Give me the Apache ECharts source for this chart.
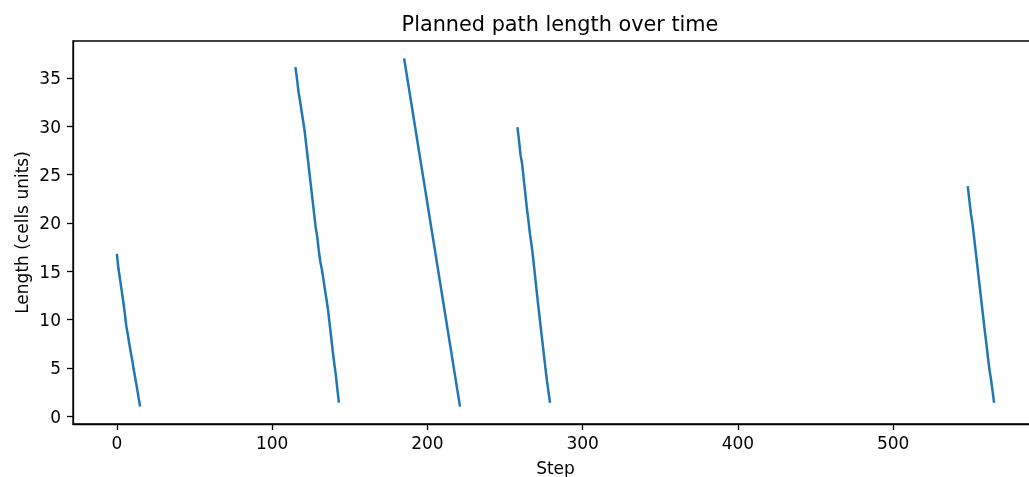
<!DOCTYPE html>
<html>
<head>
<meta charset="utf-8">
<script src="https://cdn.jsdelivr.net/npm/echarts@6/dist/echarts.min.js"></script>
<style>
  html, body { margin: 0; padding: 0; background: #fff; }
  #chart { width: 1029px; height: 477px; }
</style>
</head>
<body>
<div id="chart"></div>
<script>
// ---- data ----
const seg1Steps = [0,1,2,3,4,5,6,7,8,9,10,11,12,13,14,15];
const seg1Len   = [16.8,15.3,14.2,13.1,12.0,10.8,9.4,8.5,7.5,6.6,5.7,4.7,3.8,2.9,1.9,1.0];

const seg2Steps = [115,116,117,118,119,120,121,122,123,124,125,126,127,128,129,130,131,132,133,134,135,136,137,138,139,140,141,142,143];
const seg2Len   = [36.1,34.9,33.5,32.6,31.5,30.5,29.4,28.0,26.6,25.2,23.8,22.4,21.0,19.6,18.6,17.2,16.0,15.2,14.2,13.1,12.1,11.0,9.6,8.2,6.8,5.5,4.3,2.8,1.4];

const seg3Steps = [185,186,187,188,189,190,191,192,193,194,195,196,197,198,199,200,201,202,203,204,205,206,207,208,209,210,211,212,213,214,215,216,217,218,219,220,221];
const seg3Len   = [37.0,36.0,35.0,34.0,33.0,32.0,31.0,30.0,29.0,28.0,27.0,26.0,25.0,24.0,23.0,22.0,21.0,20.0,19.0,18.0,17.0,16.0,15.0,14.0,13.0,12.0,11.0,10.0,9.0,8.0,7.0,6.0,5.0,4.0,3.0,2.0,1.0];

const seg4Steps = [258,259,260,261,262,263,264,265,266,267,268,269,270,271,272,273,274,275,276,277,278,279];
const seg4Len   = [29.9,28.5,27.0,26.1,24.6,23.1,21.6,20.3,18.9,17.8,16.5,15.0,13.5,12.0,10.6,9.2,7.8,6.4,5.0,3.7,2.5,1.4];

const seg5Steps = [548,549,550,551,552,553,554,555,556,557,558,559,560,561,562,563,564,565];
const seg5Len   = [23.8,22.4,21.0,20.0,18.6,17.2,15.8,14.4,13.0,11.6,10.2,8.8,7.5,6.1,4.8,3.8,2.6,1.4];

const xTicks = [0,100,200,300,400,500];
const yTicks = [0,5,10,15,20,25,30,35];

// ---- build one broken line (null separates the episodes) ----
const segments = [[seg1Steps,seg1Len],[seg2Steps,seg2Len],[seg3Steps,seg3Len],[seg4Steps,seg4Len],[seg5Steps,seg5Len]];
const lineData = [];
segments.forEach(([s, v], k) => {
  if (k > 0) lineData.push([s[0] - 0.5, null]);
  s.forEach((x, i) => lineData.push([x, v[i]]));
});

const FONT = 'DejaVu Sans';
const TICK_FS = 17;
const chart = echarts.init(document.getElementById('chart'), null, { renderer: 'canvas' });
chart.setOption({
  animation: false,
  backgroundColor: '#ffffff',
  textStyle: { fontFamily: FONT, color: '#000' },
  title: {
    text: 'Planned path length over time',
    left: 555, top: 10,
    textAlign: 'center',
    textStyle: { fontFamily: FONT, fontSize: 20.8, fontWeight: 'normal', color: '#000' }
  },
  grid: {
    left: 73, top: 41, width: 965, height: 383,
    containLabel: false, outerBoundsMode: 'none',
    show: true, borderColor: '#000', borderWidth: 1.3, backgroundColor: 'transparent'
  },
  xAxis: {
    type: 'value', min: -28.25, max: 593.25,
    name: 'Step', nameLocation: 'middle', nameGap: 37, nameMoveOverlap: false,
    nameTextStyle: { fontFamily: FONT, fontSize: TICK_FS, color: '#000' },
    axisLine: { show: true, onZero: false, lineStyle: { color: '#000', width: 1.3 } },
    axisTick: { show: true, customValues: xTicks, length: 6, lineStyle: { color: '#000', width: 1.3 } },
    axisLabel: { customValues: xTicks, margin: 12, fontFamily: FONT, fontSize: TICK_FS, color: '#000' },
    splitLine: { show: false }
  },
  yAxis: {
    type: 'value', min: -0.8, max: 38.8,
    name: 'Length (cells units)', nameLocation: 'middle', nameGap: 41, nameRotate: 90, nameMoveOverlap: false,
    nameTextStyle: { fontFamily: FONT, fontSize: TICK_FS, color: '#000' },
    axisLine: { show: true, onZero: false, lineStyle: { color: '#000', width: 1.3 } },
    axisTick: { show: true, customValues: yTicks, length: 6, lineStyle: { color: '#000', width: 1.3 } },
    axisLabel: {
      customValues: yTicks, margin: 12, color: '#000',
      formatter: v => '{t|' + v + '}',
      rich: { t: { fontFamily: FONT, fontSize: TICK_FS, color: '#000', padding: [4, 0, 0, 0] } }
    },
    splitLine: { show: false }
  },
  series: [{
    type: 'line',
    data: lineData,
    connectNulls: false,
    showSymbol: false,
    symbol: 'none',
    lineStyle: { color: '#1f77b4', width: 2.5 },
    clip: true
  }]
});
</script>
</body>
</html>
